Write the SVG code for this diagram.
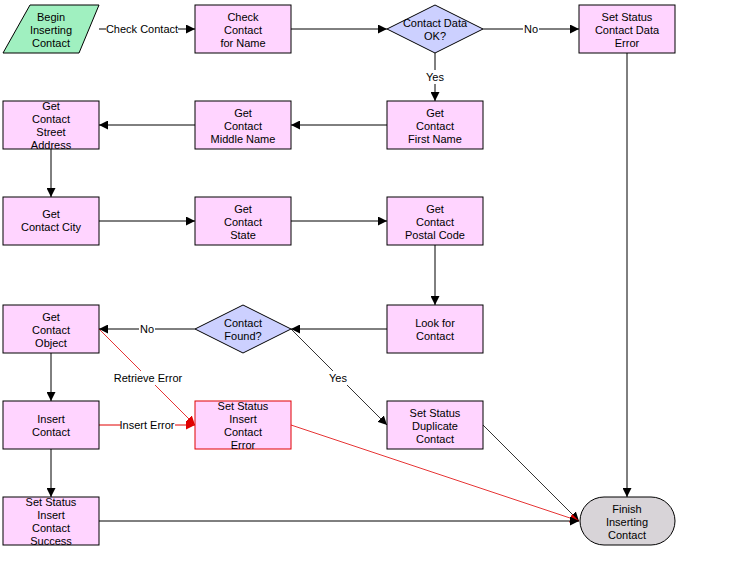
<svg xmlns="http://www.w3.org/2000/svg" width="749" height="565" viewBox="0 0 749 565">
<style>
text{font-family:"Liberation Sans",Arial,sans-serif;font-size:11px;fill:#000;text-anchor:middle}
.box{fill:#ffd4ff;stroke:#000;stroke-width:1}
.err{fill:#ffd4ff;stroke:#e00000;stroke-width:1}
.dec{fill:#ccd0ff;stroke:#000;stroke-width:1}
.start{fill:#a0f0c0;stroke:#000;stroke-width:1}
.end{fill:#d8d4d8;stroke:#000;stroke-width:1}
.c{fill:none;stroke:#000;stroke-width:1;marker-end:url(#ah)}
.cr{fill:none;stroke:#e00000;stroke-width:1;marker-end:url(#ahr)}
.thin{stroke-width:0.8}
.lb{fill:#fff;stroke:none}
</style>
<defs>
<marker id="ah" viewBox="0 0 10 10" refX="10" refY="5" markerWidth="9" markerHeight="9" markerUnits="userSpaceOnUse" orient="auto"><path d="M0,0L10,5L0,10z" fill="#000"/></marker>
<marker id="ahr" viewBox="0 0 10 10" refX="10" refY="5" markerWidth="9" markerHeight="9" markerUnits="userSpaceOnUse" orient="auto"><path d="M0,0L10,5L0,10z" fill="#e00000"/></marker>
</defs>
<rect width="749" height="565" fill="#fff"/>
<g id="connectors">
<path class="c" d="M99,29H195"/>
<rect class="lb" x="106" y="22" width="72" height="14"/>
<text x="142" y="33">Check Contact</text>
<path class="c" d="M291,29H387"/>
<path class="c" d="M483,29H579"/>
<rect class="lb" x="523" y="22" width="16" height="14"/>
<text x="531" y="33">No</text>
<path class="c" d="M435,53V101"/>
<rect class="lb" x="425" y="70" width="20" height="14"/>
<text x="435" y="81">Yes</text>
<path class="c" d="M387,125H291"/>
<path class="c" d="M195,125H99"/>
<path class="c" d="M51,149V197"/>
<path class="c" d="M99,221H195"/>
<path class="c" d="M291,221H387"/>
<path class="c" d="M435,245V305"/>
<path class="c" d="M387,329H291"/>
<path class="c" d="M195,329H99"/>
<rect class="lb" x="139" y="322" width="16" height="14"/>
<text x="147" y="333">No</text>
<path class="c thin" d="M291,329L387,425"/>
<rect class="lb" x="328" y="371" width="20" height="14"/>
<text x="338" y="382">Yes</text>
<path class="c thin" d="M483,425L579,521"/>
<path class="c" d="M627,53V497"/>
<path class="c" d="M51,353V401"/>
<path class="cr" d="M99,425H195"/>
<rect class="lb" x="121" y="418" width="54" height="14"/>
<text x="147" y="429">Insert Error</text>
<path class="cr thin" d="M99,329L195,425"/>
<rect class="lb" x="115" y="371" width="66" height="14"/>
<text x="148" y="382">Retrieve Error</text>
<path class="cr thin" d="M291,425L579,521"/>
<path class="c" d="M51,449V497"/>
<path class="c" d="M99,521H579"/>
</g>
<g id="begin">
<polygon class="start" points="30,5 99,5 79,53 3,53"/>
<text x="51" y="21">Begin</text><text x="51" y="34">Inserting</text><text x="51" y="47">Contact</text>
</g>
<g id="check-name">
<rect class="box" x="195" y="5" width="96" height="48"/>
<text x="243" y="21">Check</text><text x="243" y="34">Contact</text><text x="243" y="47">for Name</text>
</g>
<g id="contact-data-ok">
<polygon class="dec" points="387,29 435,5 483,29 435,53"/>
<text x="435" y="27">Contact Data</text><text x="435" y="40">OK?</text>
</g>
<g id="status-data-error">
<rect class="box" x="579" y="5" width="96" height="48"/>
<text x="627" y="21">Set Status</text><text x="627" y="34">Contact Data</text><text x="627" y="47">Error</text>
</g>
<g id="first-name">
<rect class="box" x="387" y="101" width="96" height="48"/>
<text x="435" y="117">Get</text><text x="435" y="130">Contact</text><text x="435" y="143">First Name</text>
</g>
<g id="middle-name">
<rect class="box" x="195" y="101" width="96" height="48"/>
<text x="243" y="117">Get</text><text x="243" y="130">Contact</text><text x="243" y="143">Middle Name</text>
</g>
<g id="street-address">
<rect class="box" x="3" y="101" width="96" height="48"/>
<text x="51" y="110">Get</text><text x="51" y="123">Contact</text><text x="51" y="136">Street</text><text x="51" y="149">Address</text>
</g>
<g id="city">
<rect class="box" x="3" y="197" width="96" height="48"/>
<text x="51" y="218">Get</text><text x="51" y="231">Contact City</text>
</g>
<g id="state">
<rect class="box" x="195" y="197" width="96" height="48"/>
<text x="243" y="213">Get</text><text x="243" y="226">Contact</text><text x="243" y="239">State</text>
</g>
<g id="postal-code">
<rect class="box" x="387" y="197" width="96" height="48"/>
<text x="435" y="213">Get</text><text x="435" y="226">Contact</text><text x="435" y="239">Postal Code</text>
</g>
<g id="look-for">
<rect class="box" x="387" y="305" width="96" height="48"/>
<text x="435" y="327">Look for</text><text x="435" y="340">Contact</text>
</g>
<g id="contact-found">
<polygon class="dec" points="195,329 243,305 291,329 243,353"/>
<text x="243" y="327">Contact</text><text x="243" y="340">Found?</text>
</g>
<g id="contact-object">
<rect class="box" x="3" y="305" width="96" height="48"/>
<text x="51" y="321">Get</text><text x="51" y="334">Contact</text><text x="51" y="347">Object</text>
</g>
<g id="insert-contact">
<rect class="box" x="3" y="401" width="96" height="48"/>
<text x="51" y="423">Insert</text><text x="51" y="436">Contact</text>
</g>
<g id="insert-error">
<rect class="err" x="195" y="401" width="96" height="48"/>
<text x="243" y="410">Set Status</text><text x="243" y="423">Insert</text><text x="243" y="436">Contact</text><text x="243" y="449">Error</text>
</g>
<g id="duplicate">
<rect class="box" x="387" y="401" width="96" height="48"/>
<text x="435" y="417">Set Status</text><text x="435" y="430">Duplicate</text><text x="435" y="443">Contact</text>
</g>
<g id="insert-success">
<rect class="box" x="3" y="497" width="96" height="48"/>
<text x="51" y="506">Set Status</text><text x="51" y="519">Insert</text><text x="51" y="532">Contact</text><text x="51" y="545">Success</text>
</g>
<g id="finish">
<rect class="end" x="580" y="497" width="95" height="48" rx="24" ry="24"/>
<text x="627" y="513">Finish</text><text x="627" y="526">Inserting</text><text x="627" y="539">Contact</text>
</g>
</svg>
